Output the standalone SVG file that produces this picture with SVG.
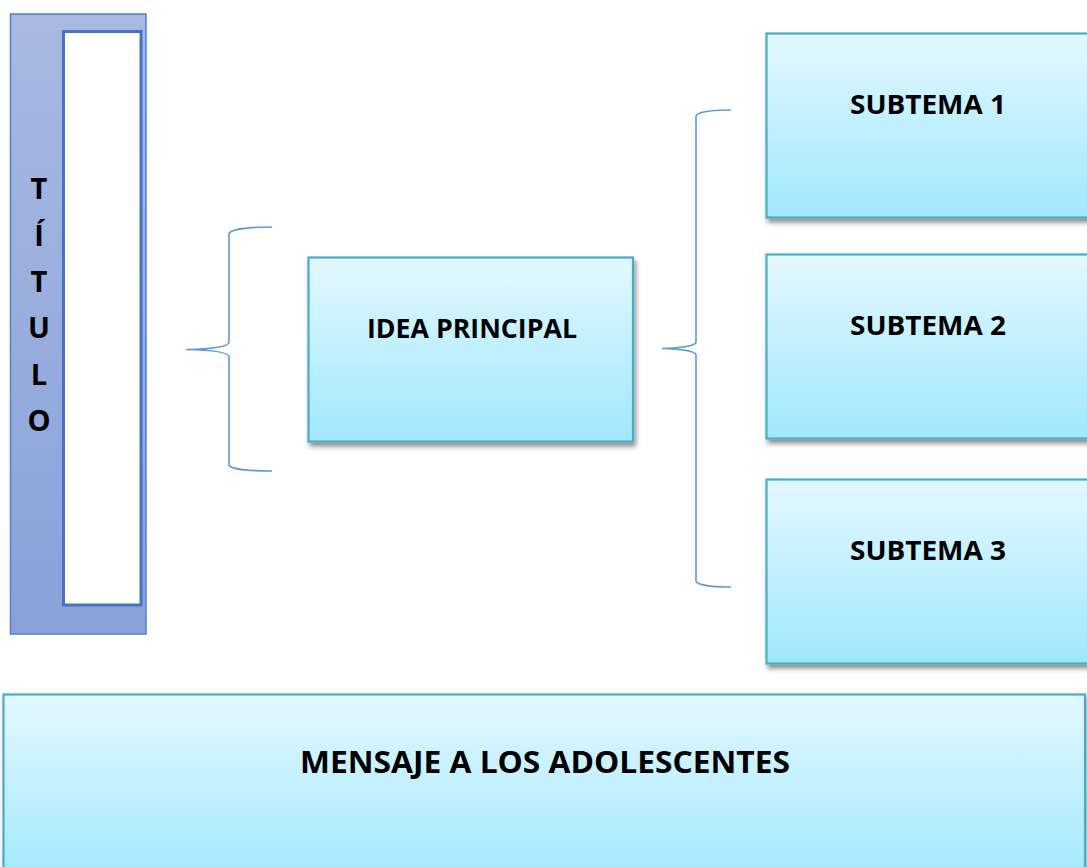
<svg xmlns="http://www.w3.org/2000/svg" width="1087" height="867" viewBox="0 0 1087 867">
<defs>
<linearGradient id="gBox" x1="0" y1="0" x2="0" y2="1">
<stop offset="0" stop-color="#e3f8fe"/>
<stop offset="1" stop-color="#a0e8fd"/>
</linearGradient>
<linearGradient id="gTitle" x1="0" y1="0" x2="0" y2="1">
<stop offset="0" stop-color="#a9b9e1"/>
<stop offset="1" stop-color="#89a1d9"/>
</linearGradient>
<filter id="sh" x="-5%" y="-5%" width="115%" height="120%">
<feGaussianBlur in="SourceAlpha" stdDeviation="2.5"/>
<feOffset dx="2" dy="4" result="b"/>
<feComponentTransfer><feFuncA type="linear" slope="0.45"/></feComponentTransfer>
<feMerge><feMergeNode/><feMergeNode in="SourceGraphic"/></feMerge>
</filter>
</defs>
<style>
.box{fill:url(#gBox);stroke:#4bacc6;stroke-width:2.2;filter:url(#sh)}
.lbl{font-family:"Open Sans",Lato,sans-serif;font-weight:bold;fill:#000;text-anchor:middle}
.brace{fill:none;stroke:#5b9bd5;stroke-width:1.6}
</style>
<rect width="1087" height="867" fill="#fff"/>
<g id="titulo">
<rect x="10.5" y="14" width="135.5" height="620" fill="url(#gTitle)" stroke="#4f7fd0" stroke-width="1.5"/>
<rect x="63.5" y="31.5" width="77.5" height="573.5" fill="#fff" stroke="#4472c4" stroke-width="3"/>
<text class="lbl" font-size="29" x="39" y="199">T</text>
<text class="lbl" font-size="29" x="39" y="245.5">Í</text>
<text class="lbl" font-size="29" x="39" y="292">T</text>
<text class="lbl" font-size="29" x="39" y="338">U</text>
<text class="lbl" font-size="29" x="39" y="384.5">L</text>
<text class="lbl" font-size="29" x="39" y="431">O</text>
</g>
<g id="connectors">
<path class="brace" d="M272,227 C250,227 230,229 229,234 L229,342 C229,347 210,349 186,349.5 C210,350 229,352 229,357 L229,465 C230,469 250,471 272,471"/>
<path class="brace" d="M731,110 C712,110 697,112 696,116 L696,342 C696,346 680,348 662,348.5 C680,349 696,351 696,355 L696,581 C697,585 712,587 731,587"/>
</g>
<g id="idea">
<rect class="box" x="308.5" y="257.5" width="324.5" height="184"/>
<text class="lbl" font-size="26" x="472" y="338" textLength="210" lengthAdjust="spacingAndGlyphs">IDEA PRINCIPAL</text>
</g>
<g id="subtema1">
<rect class="box" x="766.5" y="33.5" width="340" height="184"/>
<text class="lbl" font-size="26" x="928" y="114" textLength="156" lengthAdjust="spacingAndGlyphs">SUBTEMA 1</text>
</g>
<g id="subtema2">
<rect class="box" x="766.5" y="254.5" width="340" height="184"/>
<text class="lbl" font-size="26" x="928" y="335" textLength="156" lengthAdjust="spacingAndGlyphs">SUBTEMA 2</text>
</g>
<g id="subtema3">
<rect class="box" x="766.5" y="479.5" width="340" height="184"/>
<text class="lbl" font-size="26" x="928" y="560" textLength="156" lengthAdjust="spacingAndGlyphs">SUBTEMA 3</text>
</g>
<g id="mensaje">
<rect class="box" x="3.5" y="694.5" width="1081.5" height="190"/>
<text class="lbl" font-size="30" x="545" y="773" textLength="490" lengthAdjust="spacingAndGlyphs">MENSAJE A LOS ADOLESCENTES</text>
</g>
</svg>
